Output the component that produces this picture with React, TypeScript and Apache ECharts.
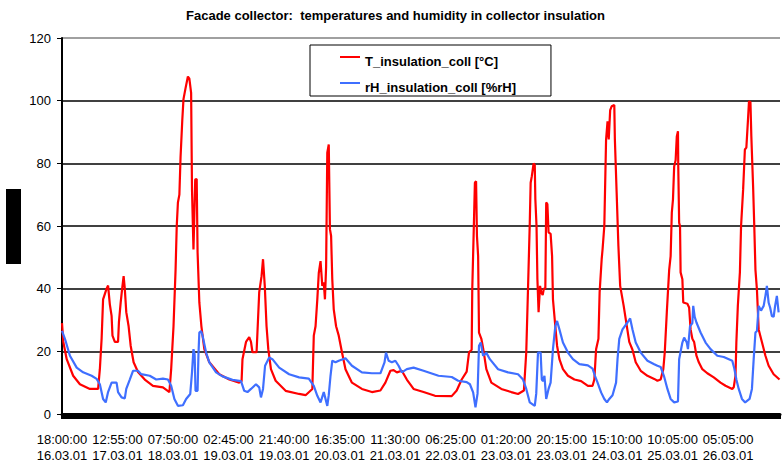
import React, { useEffect, useRef } from 'react';
import * as echarts from 'echarts';

const TITLE = 'Facade collector:  temperatures and humidity in collector insulation';
const SERIES_NAMES = ['T_insulation_coll [°C]', 'rH_insulation_coll [%rH]'];
const SERIES_COLORS = ['#ff0000', '#3f6fff'];

// x-axis tick labels, one every 18 h 55 min (1135 min) from 18:00 16.03.01
const TICK_LABELS = [
  '18:00:00\n16.03.01', '12:55:00\n17.03.01', '07:50:00\n18.03.01', '02:45:00\n19.03.01',
  '21:40:00\n19.03.01', '16:35:00\n20.03.01', '11:30:00\n21.03.01', '06:25:00\n22.03.01',
  '01:20:00\n23.03.01', '20:15:00\n23.03.01', '15:10:00\n24.03.01', '10:05:00\n25.03.01',
  '05:05:00\n26.03.01',
];
const LABEL_STEP_MIN = 1135;
const X_MAX_MIN = 14680;

// [hours since 18:00 16.03.01, °C]
const T_INSULATION: number[][] = [
  [0, 29], [0.45, 23], [1.6, 17.5], [3.8, 12.2], [6.1, 9.5], [9.5, 8], [12.3, 8], [12.9, 14.3], [13.5, 24], [14.0, 36.6],
  [15.2, 40], [15.7, 41], [16.3, 35], [16.9, 31.3], [17.2, 25], [18.0, 23], [19.1, 23], [19.4, 29.3], [20.0, 35.6], [20.5, 40],
  [21.0, 44], [21.4, 40], [21.9, 32.5], [22.7, 28], [23.4, 21.8], [24.4, 16.5], [25.9, 13.4], [28.2, 11], [31.0, 9], [34.4, 8.5],
  [36.6, 7], [37.2, 14.3], [38.0, 28], [38.7, 46], [39.1, 60], [39.5, 67.5], [40.0, 70], [40.4, 82], [41.0, 94], [41.4, 100.5],
  [42.1, 104], [42.9, 107.7], [43.4, 107], [44.0, 102.5], [44.3, 71.6], [44.8, 52.5], [45.4, 74.8], [45.9, 75], [46.2, 51.6], [46.8, 35.6],
  [47.5, 28], [48.5, 20.7], [50.2, 16.5], [53.6, 12.7], [57.0, 11], [60.4, 10], [61.2, 10.5], [61.5, 17.5], [62.7, 23], [63.8, 24.5],
  [64.4, 23], [64.9, 19.7], [66.3, 19.7], [66.6, 26], [67.2, 38.8], [68.0, 44], [68.5, 49.4], [69.1, 40.9], [69.7, 28], [70.3, 20.7],
  [71.2, 14.3], [72.8, 10.6], [76.2, 7.4], [80.8, 6.4], [83.0, 6], [85.3, 8], [85.8, 25], [86.4, 28], [87.0, 36.6], [87.5, 45],
  [88.1, 48.8], [88.7, 40.9], [89.2, 42], [89.6, 36.6], [90.0, 47], [90.4, 83.4], [90.9, 86], [91.3, 59], [91.7, 56.8], [92.1, 43],
  [92.6, 33.4], [93.4, 28], [94.3, 25], [95.4, 19.7], [96.6, 14.3], [98.8, 10], [102.2, 8], [105.6, 7], [108.5, 7.5], [110.2, 10],
  [111.9, 13.8], [113.0, 14], [114.1, 13.3], [115.8, 13.8], [117.5, 11], [119.8, 8], [123.2, 7], [127.1, 5.8], [132.8, 5.7], [134.5, 7.5],
  [136.2, 11], [137.9, 13.5], [138.7, 19.7], [139.6, 20.5], [139.8, 39.8], [140.2, 54.7], [140.7, 73.8], [141.1, 74.3], [141.4, 56.8], [141.8, 50.4],
  [142.1, 26], [142.9, 24], [143.5, 21], [144.6, 14.3], [146.3, 10], [149.7, 8], [153.1, 7], [155.4, 6.4], [157.4, 7.5], [158.2, 19.7],
  [158.8, 40], [159.4, 61], [159.7, 73.8], [160.1, 75.9], [160.7, 80], [161.1, 79.5], [161.3, 68.5], [161.7, 60], [162.0, 43], [162.4, 32.5],
  [162.9, 40.9], [163.3, 38.8], [163.8, 38], [164.2, 40], [164.7, 40], [165.0, 67.5], [165.4, 67], [165.8, 58], [166.5, 57.5], [167.0, 50.4],
  [167.3, 36.6], [168.1, 28], [168.7, 21.8], [169.5, 17.5], [170.7, 14.3], [172.4, 12.2], [174.6, 11], [176.9, 10.5], [179.2, 9], [180.8, 9],
  [181.4, 11], [182.0, 20.7], [182.8, 24], [183.2, 38.8], [183.9, 49.4], [184.2, 52.5], [184.8, 60], [185.4, 87.6], [185.9, 93.4], [186.3, 87.6],
  [186.8, 97], [187.3, 98.2], [188.2, 98.6], [188.4, 87.6], [189.0, 70.7], [189.6, 53.6], [190.2, 40.9], [191.4, 34.5], [192.1, 30.3], [193.3, 23],
  [194.4, 20.5], [195.5, 16.5], [197.2, 13.8], [199.5, 12.2], [201.8, 11.2], [202.9, 10.6], [204.0, 11], [204.9, 14.3], [205.4, 19.7], [206.1, 32.5],
  [206.9, 46], [207.4, 50.4], [207.8, 64.3], [208.2, 68.5], [208.6, 79], [209.1, 81], [209.5, 88.6], [209.9, 90.2], [210.0, 79], [210.3, 61],
  [210.6, 60], [210.8, 45.2], [211.4, 43], [211.7, 35.6], [213.1, 35.2], [213.7, 34], [214.2, 27], [214.8, 24], [215.4, 23], [216.2, 18.6],
  [217.0, 16.5], [218.2, 14.3], [219.9, 13], [222.1, 11.7], [224.4, 10], [226.1, 9], [228.4, 8], [228.9, 8.5], [229.5, 12.2], [229.8, 23],
  [230.3, 34.5], [231.0, 45.2], [231.4, 60], [232.1, 71.6], [232.7, 84.4], [233.2, 85], [233.7, 93], [234.1, 99.8], [234.6, 99.5], [234.9, 88.6],
  [235.5, 72.7], [235.9, 60], [236.3, 46], [236.8, 39.8], [237.4, 27], [238.5, 23], [239.7, 18.6], [240.8, 15.4], [242.5, 12.7], [244.5, 11],
];

// [hours since 18:00 16.03.01, %rH]
const RH_INSULATION: number[][] = [
  [0, 26.5], [1.0, 24], [2.7, 18.6], [5.0, 14.8], [7.2, 13.3], [10.1, 12.2], [11.8, 11.2], [12.9, 9.5], [14.0, 4.8], [14.9, 3.7],
  [15.7, 7], [16.9, 10], [18.6, 10], [19.1, 7], [20.3, 5.3], [21.4, 5], [21.9, 8], [23.1, 11], [24.2, 13.8], [25.9, 13.8],
  [27.0, 12.7], [29.9, 12.2], [32.1, 11], [34.4, 11.3], [36.1, 11], [37.2, 9], [38.3, 4.8], [39.5, 2.6], [41.2, 2.8], [42.3, 4.8],
  [43.7, 6.4], [44.3, 13.3], [44.8, 20.7], [45.2, 19], [45.5, 7.4], [46.2, 7.4], [46.5, 19], [46.8, 26], [47.4, 26.5], [47.9, 25],
  [49.1, 19.6], [50.2, 16.5], [52.5, 13.3], [54.7, 12], [58.1, 10.9], [61.0, 10.5], [62.1, 7.4], [63.2, 7], [64.4, 8], [66.1, 9.5],
  [67.2, 8.5], [67.8, 5.3], [68.5, 8], [69.2, 15.4], [70.6, 18], [71.7, 17.5], [74.0, 14.8], [77.4, 12.7], [80.8, 11.7], [84.1, 11.3],
  [85.8, 9], [87.0, 5.8], [88.1, 3.7], [89.2, 7], [90.4, 2.6], [90.9, 6], [91.5, 12.2], [92.1, 17], [93.2, 16.5], [94.3, 17],
  [96.6, 17.8], [98.8, 15.4], [102.2, 13.3], [105.6, 13], [108.5, 13], [109.9, 16.5], [110.4, 19.6], [111.3, 17], [112.4, 16.5], [113.6, 17],
  [114.7, 15.4], [115.8, 13.3], [117.5, 14.3], [119.8, 14.8], [123.2, 13.8], [128.3, 12.2], [132.8, 11.8], [135.0, 10.6], [137.9, 10.2], [139.0, 9.5],
  [140.1, 6.9], [140.9, 2.1], [141.6, 6.5], [142.1, 21.8], [142.7, 22.8], [143.5, 18.6], [144.6, 19.5], [145.8, 17.5], [148.6, 14.3], [152.0, 13.3],
  [155.4, 12.7], [157.1, 11], [158.2, 8], [159.4, 3.7], [161.1, 2.6], [161.6, 6.5], [162.2, 19.6], [163.1, 19.6], [163.5, 11], [163.9, 10.5],
  [164.4, 12.2], [165.0, 4.8], [165.8, 8], [166.5, 10], [167.3, 20.7], [168.1, 28], [168.7, 29.7], [169.5, 27], [170.7, 22.8], [172.4, 19.6],
  [174.1, 17.5], [176.3, 15.9], [179.2, 15.5], [180.8, 14.5], [181.6, 12.2], [182.5, 10], [183.7, 6.9], [184.8, 4.8], [185.7, 3.7], [186.5, 4.8],
  [187.6, 6], [188.8, 10], [189.3, 17.5], [189.9, 24], [191.0, 27], [192.7, 29.2], [193.6, 30.5], [194.4, 27], [195.5, 22.8], [197.2, 19.6],
  [199.5, 17], [201.8, 15.9], [202.9, 15.4], [204.0, 15], [205.1, 12.2], [206.3, 8], [207.4, 4.8], [208.6, 3.7], [209.9, 4], [210.3, 17.5],
  [211.4, 22.8], [212.0, 24.4], [212.9, 22.8], [213.3, 20.7], [214.0, 28], [214.8, 29], [215.1, 34.5], [215.6, 31], [216.2, 29.2], [217.6, 26],
  [219.3, 22.8], [221.0, 20.7], [223.3, 18.6], [225.5, 18.2], [228.4, 17], [229.1, 14.5], [229.8, 11], [230.6, 8], [231.7, 4.8], [232.8, 3.7],
  [234.3, 4.8], [235.1, 8], [235.7, 17.5], [236.3, 26], [236.8, 26.5], [237.4, 34.5], [238.2, 33], [239.1, 34.5], [239.7, 37.7], [240.2, 40.9],
  [240.8, 35.5], [241.3, 34], [241.9, 31.3], [242.5, 31], [243.0, 34.5], [243.6, 37.7], [244.2, 32.4],
];

const FONT = '"Liberation Sans", Arial, Helvetica, sans-serif';

export default function App() {
  const ref = useRef<HTMLDivElement>(null);

  useEffect(() => {
    if (!ref.current) return;
    const chart = echarts.init(ref.current, null, { renderer: 'svg' });
    const toMinutes = (arr: number[][]) => arr.map(([h, v]) => [h * 60, v]);

    chart.setOption({
      animation: false,
      backgroundColor: '#ffffff',
      title: {
        text: TITLE,
        left: 186,
        top: 9,
        padding: 0,
        textStyle: { fontFamily: FONT, fontSize: 13, fontWeight: 'bold', color: '#000' },
      },
      legend: {
        orient: 'vertical',
        align: 'left',
        left: 310,
        top: 45,
        padding: [8, 35, 1, 30],
        itemGap: 10,
        itemWidth: 20,
        itemHeight: 10,
        icon: 'path://M0,0H20V2H0Z M0,9.99H0.01V10H0Z',
        borderColor: '#000',
        borderWidth: 1,
        backgroundColor: '#fff',
        itemStyle: { borderWidth: 0 },
        textStyle: { fontFamily: FONT, fontSize: 13, fontWeight: 'bold', color: '#000', lineHeight: 16 },
        data: SERIES_NAMES,
      },
      grid: { left: 62, right: 0, top: 38, bottom: 48, containLabel: false },
      xAxis: {
        type: 'value',
        min: 0,
        max: X_MAX_MIN,
        interval: LABEL_STEP_MIN,
        axisLine: { show: true, onZero: false, lineStyle: { color: '#000', width: 3 } },
        axisTick: { show: true, length: 5, lineStyle: { color: '#000', width: 2 } },
        minorTick: { show: true, splitNumber: 60, length: 5, lineStyle: { color: '#000', width: 2 } },
        splitLine: { show: false },
        minorSplitLine: { show: false },
        axisLabel: {
          fontFamily: FONT,
          fontSize: 13,
          color: '#000',
          lineHeight: 16,
          margin: 17,
          hideOverlap: false,
          formatter: (v: number) => {
            const i = Math.round(v / LABEL_STEP_MIN);
            if (Math.abs(v - i * LABEL_STEP_MIN) > 1) return '';
            return TICK_LABELS[i] ?? '';
          },
        },
      },
      yAxis: {
        type: 'value',
        min: 0,
        max: 120,
        interval: 20,
        axisLine: { show: true, lineStyle: { color: '#000', width: 2 } },
        axisTick: { show: true, length: 5, lineStyle: { color: '#000', width: 1 } },
        axisLabel: { fontFamily: FONT, fontSize: 13, color: '#000', margin: 11 },
        splitLine: {
          show: true,
          lineStyle: { color: ['#000', '#000', '#000', '#000', '#000', '#000', '#808080'], width: 1.5 },
        },
      },
      graphic: [
        { type: 'rect', left: 6, top: 189, shape: { width: 15, height: 75 }, style: { fill: '#000' } },
      ],
      series: [
        {
          name: SERIES_NAMES[0],
          type: 'line',
          data: toMinutes(T_INSULATION),
          symbol: 'none',
          showSymbol: false,
          color: SERIES_COLORS[0],
          lineStyle: { color: SERIES_COLORS[0], width: 2.2 },
        },
        {
          name: SERIES_NAMES[1],
          type: 'line',
          data: toMinutes(RH_INSULATION),
          symbol: 'none',
          showSymbol: false,
          color: SERIES_COLORS[1],
          lineStyle: { color: SERIES_COLORS[1], width: 2.2 },
        },
      ],
    });
    return () => chart.dispose();
  }, []);

  return <div ref={ref} style={{ position: 'fixed', left: 0, top: 0, width: 783, height: 463 }} />;
}
